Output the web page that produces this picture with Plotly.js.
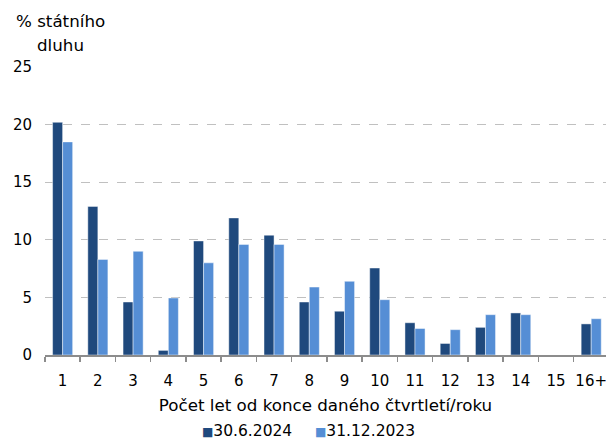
<!DOCTYPE html>
<html>
<head>
<meta charset="utf-8">
<script src="https://cdn.plot.ly/plotly-3.0.1.min.js"></script>
<style>html,body{margin:0;padding:0;background:#fff;}#chart{width:606px;height:439px;}</style>
</head>
<body>
<div id="chart"></div>
<script>
const categories = ["1","2","3","4","5","6","7","8","9","10","11","12","13","14","15","16+"];
const seriesNames = ["30.6.2024", "31.12.2023"];
const values2024 = [20.2, 12.9, 4.6, 0.4, 9.9, 11.9, 10.4, 4.6, 3.8, 7.55, 2.8, 1.0, 2.4, 3.65, 0, 2.7];
const values2023 = [18.5, 8.3, 9.0, 4.95, 8.0, 9.6, 9.6, 5.9, 6.4, 4.8, 2.3, 2.2, 3.5, 3.5, 0, 3.15];
const yTicks = [0, 5, 10, 15, 20, 25];
const yTitleLines = ["% státního", "dluhu"];
const xTitle = "Počet let od konce daného čtvrtletí/roku";
const seriesColors = ["#1f497d", "#558ed5"];

const font = "DejaVu Sans, Verdana, sans-serif";
const W = 606, H = 439, L = 45, R = 0, T = 67, B = 84;
const plotW = W - L - R, plotH = H - T - B;

const traces = [
  {type: "bar", name: seriesNames[0], x: categories, y: values2024, showlegend: false,
   marker: {color: seriesColors[0], line: {color: "rgba(255,255,255,0.45)", width: 1}}},
  {type: "bar", name: seriesNames[1], x: categories, y: values2023, showlegend: false,
   marker: {color: seriesColors[1], line: {color: "rgba(255,255,255,0.45)", width: 1}}}
];

const pxToPaperX = px => (px - L) / plotW;
const pxToPaperY = py => (H - B - py) / plotH;
const txt = (size) => ({family: font, size: size, color: "#000"});

const layout = {
  width: W, height: H,
  margin: {l: L, r: R, t: T, b: B, pad: 0},
  paper_bgcolor: "#fff", plot_bgcolor: "#fff",
  font: txt(15),
  barmode: "group", bargap: 0.43, bargroupgap: 0,
  showlegend: false,
  xaxis: {type: "category", range: [-0.5, 15.42], showgrid: false,
          showline: true, linecolor: "#8c8c8c", linewidth: 1.5,
          ticks: "outside", tickson: "boundaries", ticklen: 5, tickcolor: "#8c8c8c", tickwidth: 1.5,
          tickangle: 0, tickfont: txt(15), ticklabelstandoff: 11,
          title: {text: xTitle, font: txt(16.7), standoff: 11},
          fixedrange: true},
  yaxis: {range: [0, 25], tickvals: yTicks, ticktext: yTicks.map(String),
          showgrid: true, gridcolor: "#c0c0c0", griddash: "dash", gridwidth: 1,
          zeroline: false, showline: false, ticks: "", ticklabelstandoff: 12,
          tickfont: txt(15), fixedrange: true},
  annotations: [
    {text: yTitleLines[0], xref: "paper", yref: "paper", x: pxToPaperX(60), y: pxToPaperY(21),
     xanchor: "center", yanchor: "middle", showarrow: false, font: txt(16.7)},
    {text: yTitleLines[1], xref: "paper", yref: "paper", x: pxToPaperX(60), y: pxToPaperY(45),
     xanchor: "center", yanchor: "middle", showarrow: false, font: txt(16.7)},
    {text: '<span style="color:' + seriesColors[0] + ';font-size:12px">■</span>' + seriesNames[0],
     xref: "paper", yref: "paper", x: pxToPaperX(247), y: pxToPaperY(431),
     xanchor: "center", yanchor: "middle", showarrow: false, font: txt(15.5)},
    {text: '<span style="color:' + seriesColors[1] + ';font-size:12px">■</span>' + seriesNames[1],
     xref: "paper", yref: "paper", x: pxToPaperX(365), y: pxToPaperY(431),
     xanchor: "center", yanchor: "middle", showarrow: false, font: txt(15.5)}
  ]
};

Plotly.newPlot("chart", traces, layout, {displayModeBar: false, staticPlot: true});
</script>
</body>
</html>
